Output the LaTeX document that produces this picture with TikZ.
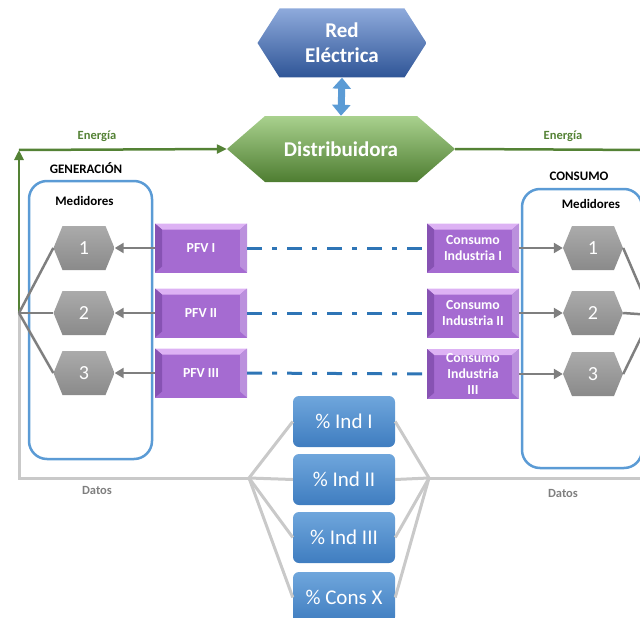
\documentclass[tikz,border=0pt]{standalone}
\usepackage{fontspec}
\setmainfont{Carlito}
\definecolor{RedTop}{HTML}{8EAADB}
\definecolor{RedBot}{HTML}{2F5597}
\definecolor{DistTop}{HTML}{A9D18E}
\definecolor{DistBot}{HTML}{4E7D31}
\definecolor{EnergyGreen}{HTML}{548235}
\definecolor{MeterTop}{HTML}{ABABAB}
\definecolor{MeterBot}{HTML}{8A8A8A}
\definecolor{FrameBlue}{HTML}{5B9BD5}
\definecolor{LinkBlue}{HTML}{2E75B6}
\definecolor{PlantPurple}{HTML}{A56BD1}
\definecolor{PlantLight}{HTML}{DDB2F4}
\definecolor{PlantDark}{HTML}{8752B3}
\definecolor{ShareTop}{HTML}{6FA6DC}
\definecolor{ShareBot}{HTML}{3F7DC0}
\definecolor{ArrowGrey}{HTML}{7F7F7F}
\definecolor{DataGrey}{HTML}{C9C9C9}
\usetikzlibrary{arrows.meta,positioning}

\begin{document}
\begin{tikzpicture}[x=1pt,y=-1pt,
hexa/.style args={#1/#2/#3}{draw=none,inner sep=0pt,align=center,text=white,
  path picture={\shade[top color=#1,bottom color=#2]
    (path picture bounding box.west)
    -- ([xshift=#3]path picture bounding box.north west)
    -- ([xshift=-#3]path picture bounding box.north east)
    -- (path picture bounding box.east)
    -- ([xshift=-#3]path picture bounding box.south east)
    -- ([xshift=#3]path picture bounding box.south west) -- cycle;}},
meter/.style={hexa=MeterTop/MeterBot/9pt,minimum width=61pt,minimum height=44pt,font=\fontsize{20}{24}\selectfont},
plantbox/.style={fill=PlantPurple,minimum width=92pt,minimum height=49pt,inner sep=1pt,align=center,text=white,font=\bfseries\fontsize{13.8}{16}\selectfont,
  path picture={
    \fill[PlantLight] (path picture bounding box.north west) -- (path picture bounding box.north east)
      -- ([shift={(-7pt,-6pt)}]path picture bounding box.north east) -- ([shift={(7pt,-6pt)}]path picture bounding box.north west) -- cycle;
    \fill[PlantDark] (path picture bounding box.north west) -- ([shift={(7pt,-6pt)}]path picture bounding box.north west)
      -- ([shift={(7pt,6pt)}]path picture bounding box.south west) -- (path picture bounding box.south west) -- cycle;
    \fill[PlantPurple!75!white] (path picture bounding box.north east) -- ([shift={(-7pt,-6pt)}]path picture bounding box.north east)
      -- ([shift={(-7pt,6pt)}]path picture bounding box.south east) -- (path picture bounding box.south east) -- cycle;}},
sharebox/.style={rounded corners=6pt,top color=ShareTop,bottom color=ShareBot,minimum width=102pt,minimum height=51pt,text=white,font=\fontsize{21}{25}\selectfont},
meterframe/.style={draw=FrameBlue,line width=2.5pt,rounded corners=18pt},
lbl/.style={font=\bfseries\fontsize{13}{15}\selectfont},
elbl/.style={font=\bfseries\fontsize{12.5}{15}\selectfont,text=EnergyGreen},
dlbl/.style={font=\bfseries\fontsize{12.5}{15}\selectfont,text=ArrowGrey},
gline/.style={line width=2.5pt,draw=EnergyGreen},
garr/.style={gline,-{Triangle[length=10pt,width=9pt]}},
mline/.style={line width=2.5pt,draw=ArrowGrey},
marr/.style={mline,-{Triangle[length=9pt,width=10pt]}},
dline/.style={line width=3pt,draw=DataGrey},
linkline/.style={line width=3pt,draw=LinkBlue,dash pattern=on 15pt off 10pt on 5pt off 10pt}
]
\useasboundingbox (0,0) rectangle (640,618);
\clip (0,0) rectangle (640,618);
\node[meterframe,minimum width=123pt,minimum height=278pt] (genframe) at (90.5,320) {};
\node[meterframe,minimum width=120pt,minimum height=279pt] (conframe) at (582,328.5) {};
\node[hexa=RedTop/RedBot/22pt,minimum width=169pt,minimum height=69pt,font=\bfseries\fontsize{21}{25}\selectfont] (red) at (342,43) {Red\\Eléctrica};
\node[hexa=DistTop/DistBot/38pt,minimum width=228pt,minimum height=66pt,font=\bfseries\fontsize{21}{25}\selectfont] (dist) at (341,149) {Distribuidora};
\node[lbl] (gen) at (86,168) {GENERACIÓN};
\node[lbl] (con) at (579,176) {CONSUMO};
\node[lbl] (medg) at (84.5,201) {Medidores};
\node[lbl] (medc) at (591,204) {Medidores};
\node[elbl] (eng) at (97,136) {Energía};
\node[elbl] (enc) at (563,136) {Energía};
\node[dlbl] (datg) at (97,490) {Datos};
\node[dlbl] (datc) at (563,493) {Datos};
\node[meter] (mg1) at (84,248) {1};
\node[meter] (mg2) at (84,313) {2};
\node[meter] (mg3) at (84,373) {3};
\node[meter,minimum width=60pt] (mc1) at (593,248) {1};
\node[meter,minimum width=60pt] (mc2) at (593,313) {2};
\node[meter,minimum width=60pt] (mc3) at (593,374) {3};
\node[plantbox] (pfv1) at (201,248) {PFV I};
\node[plantbox] (pfv2) at (201,313) {PFV II};
\node[plantbox] (pfv3) at (201,373) {PFV III};
\node[plantbox] (ind1) at (473,248) {Consumo\\Industria I};
\node[plantbox] (ind2) at (473,313) {Consumo\\Industria II};
\node[plantbox,minimum height=50pt] (ind3) at (473,374) {Consumo\\Industria\\III};
\node[sharebox] (sh1) at (344,421.5) {\% Ind I};
\node[sharebox] (sh2) at (344,479.5) {\% Ind II};
\node[sharebox] (sh3) at (344,537.5) {\% Ind III};
\node[sharebox] (sh4) at (344,597.5) {\% Cons X};
\coordinate (gj) at (19,313);
\coordinate (gc) at (19,150);
\coordinate (gd) at (19,478);
\coordinate (fl) at (249,478);
\coordinate (fr) at (429,478);
\coordinate (cj) at (652,315);
\coordinate (cc) at (652,150);
\coordinate (cd) at (652,478);
\draw[line width=7pt,draw=FrameBlue,{Triangle[length=11pt,width=18pt]}-{Triangle[length=11pt,width=18pt]}] (red.south) -- (dist.north);
\draw[dline] (gj) -- (gd) -- (fl);
\draw[dline] (fl) -- (sh1.west);
\draw[dline] (fl) -- (sh2.west);
\draw[dline] (fl) -- (sh3.west);
\draw[dline] (fl) -- (sh4.west);
\draw[dline] (sh1.east) -- (fr);
\draw[dline] (sh2.east) -- (fr);
\draw[dline] (sh3.east) -- (fr);
\draw[dline] (sh4.east) -- (fr);
\draw[dline] (fr) -- (cd) -- (cj);
\draw[garr] (gj) -- (gc);
\draw[garr] (gc) -- (dist.west);
\draw[gline] (dist.east) -- (cc) -- (cj);
\draw[mline] (gj) -- (mg1.west);
\draw[mline] (gj) -- (mg2.west);
\draw[mline] (gj) -- (mg3.west);
\draw[mline] (cj) -- (mc1.east);
\draw[mline] (cj) -- (mc2.east);
\draw[mline] (cj) -- (mc3.east);
\draw[marr] (pfv1.west) -- (mg1.east);
\draw[marr] (pfv2.west) -- (mg2.east);
\draw[marr] (pfv3.west) -- (mg3.east);
\draw[marr] (ind1.east) -- (mc1.west);
\draw[marr] (ind2.east) -- (mc2.west);
\draw[marr] (ind3.east) -- (mc3.west);
\draw[linkline] (pfv1.east) -- (ind1.west);
\draw[linkline] (pfv2.east) -- (ind2.west);
\draw[linkline] (pfv3.east) -- (ind3.west);
\end{tikzpicture}
\end{document}
